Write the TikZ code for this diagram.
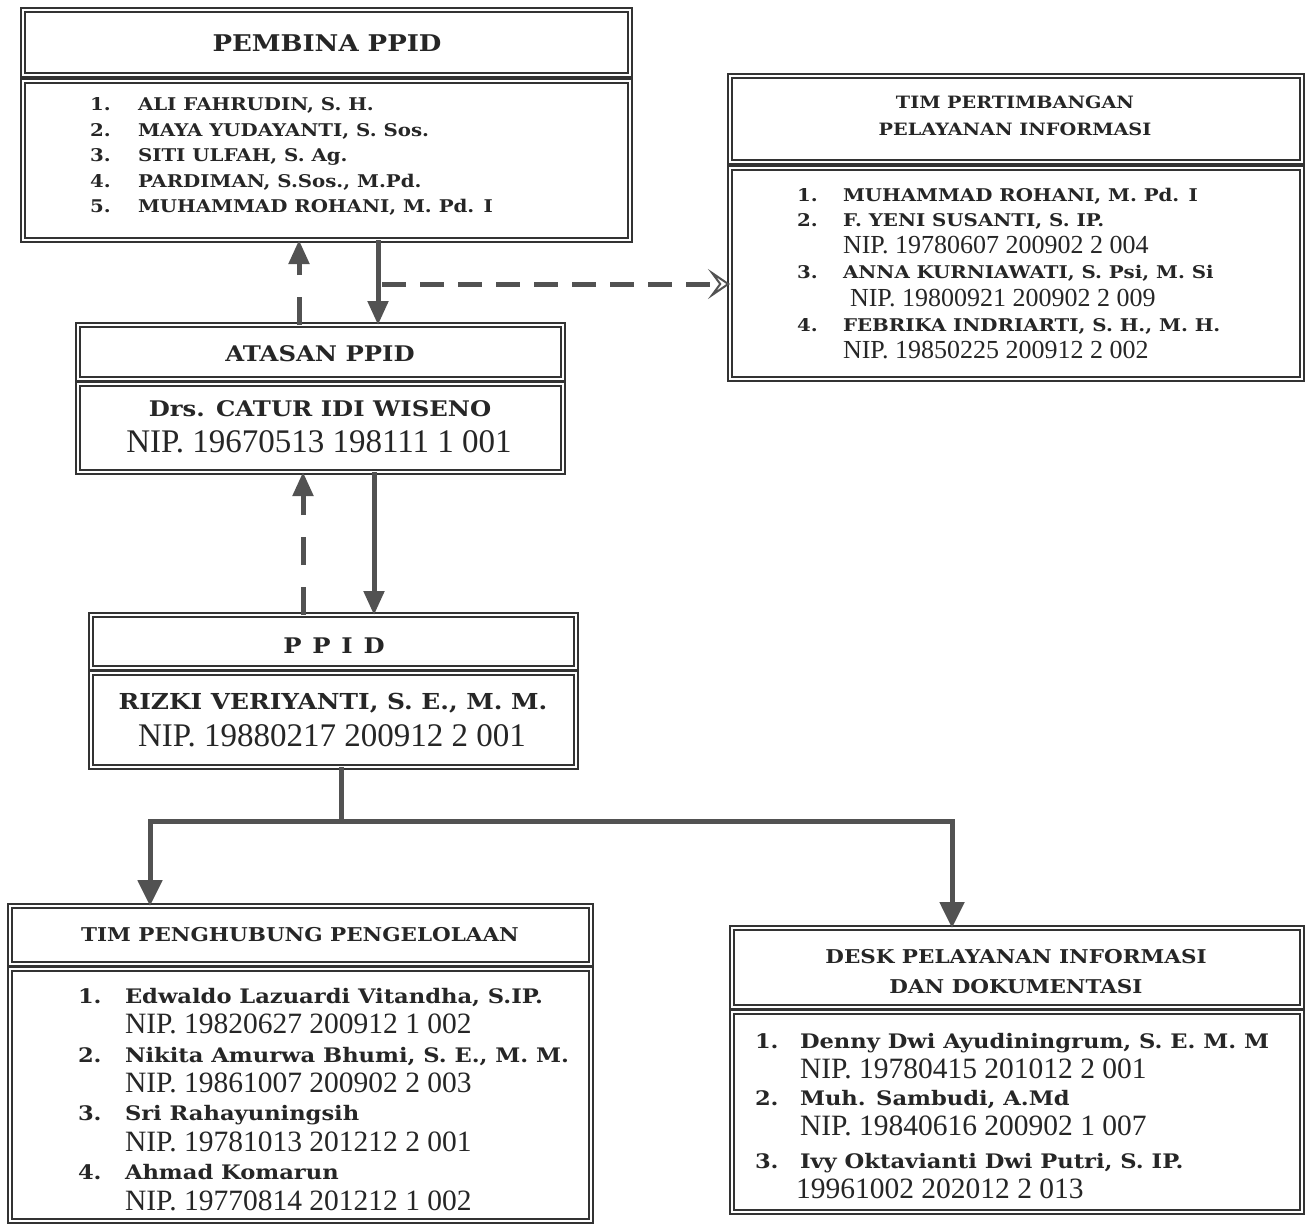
\documentclass[tikz,border=0pt]{standalone}
\usepackage{fontspec}
\setmainfont{DejaVu Serif}
\newfontfamily\bk{DejaVu Serif}[FakeStretch=1.13]
\newfontfamily\nipf{Liberation Serif}
\usetikzlibrary{arrows.meta}
\definecolor{ink}{HTML}{262626}
\definecolor{boxc}{HTML}{333333}
\definecolor{linec}{HTML}{525252}
\begin{document}
\begin{tikzpicture}[x=1pt,y=-1pt,
  box/.style={draw=boxc, double=white, double distance=2.4pt, line width=1.5pt, inner sep=0pt, outer sep=0pt, anchor=north west, rectangle},
  t/.style={inner sep=0pt, outer sep=0pt, text=ink},
  hA/.style={t, anchor=base, font=\fontsize{23}{26}\bk\bfseries},
  hB/.style={t, anchor=base, font=\fontsize{17}{20}\bk\bfseries},
  hC/.style={t, anchor=base, font=\fontsize{21.5}{24}\bk\bfseries},
  hD/.style={t, anchor=base, font=\fontsize{22}{24}\bk\bfseries},
  hE/.style={t, anchor=base, font=\fontsize{19}{22}\bk\bfseries},
  lS/.style={t, anchor=base west, font=\fontsize{17.5}{20}\bk\bfseries},
  lL/.style={t, anchor=base west, font=\fontsize{20}{24}\bk\bfseries},
  nS/.style={t, anchor=base west, font=\fontsize{26}{28}\nipf},
  nL/.style={t, anchor=base west, font=\fontsize{29.5}{32}\nipf},
  nC/.style={t, anchor=base, font=\fontsize{33}{35}\nipf},
  conn/.style={draw=linec, line width=5pt, line join=miter},
  tipF/.style={-{Triangle[length=24pt,width=20pt]}},
  dsh/.style={dash pattern=on 28pt off 22pt},
]
\useasboundingbox (0,0) rectangle (1308,1224);
\fill[white] (0,0) rectangle (1308,1224);

% ---------- boxes ----------
\node[box, minimum width=607pt, minimum height=65pt]  (pemH)  at (23,10) {};
\node[box, minimum width=607pt, minimum height=159pt] (pemB)  at (23,81) {};
\node[box, minimum width=572pt, minimum height=86pt]  (tpH)   at (730,76) {};
\node[box, minimum width=572pt, minimum height=211pt] (tpB)   at (730,168) {};
\node[box, minimum width=485pt, minimum height=54pt]  (ataH)  at (78,325) {};
\node[box, minimum width=485pt, minimum height=88pt]  (ataB)  at (78,384) {};
\node[box, minimum width=485pt, minimum height=53pt]  (ppidH) at (91,615) {};
\node[box, minimum width=485pt, minimum height=94pt]  (ppidB) at (91,673) {};
\node[box, minimum width=581pt, minimum height=58pt]  (penH)  at (10,906) {};
\node[box, minimum width=581pt, minimum height=252pt] (penB)  at (10,969) {};
\node[box, minimum width=570pt, minimum height=79pt]  (deskH) at (732,928) {};
\node[box, minimum width=570pt, minimum height=200pt] (deskB) at (732,1012) {};

% ---------- PEMBINA ----------
\node[hA] (pemT) at (327,51) {PEMBINA PPID};
\node[lS] (pn1) at (90,110) {1.};  \node[lS] (pm1) at (138,110) {ALI FAHRUDIN, S. H.};
\node[lS] (pn2) at (90,136) {2.};  \node[lS] (pm2) at (138,136) {MAYA YUDAYANTI, S. Sos.};
\node[lS] (pn3) at (90,161) {3.};  \node[lS] (pm3) at (138,161) {SITI ULFAH, S. Ag.};
\node[lS] (pn4) at (90,187) {4.};  \node[lS] (pm4) at (138,187) {PARDIMAN, S.Sos., M.Pd.};
\node[lS] (pn5) at (90,212) {5.};  \node[lS] (pm5) at (138,212) {MUHAMMAD ROHANI, M. Pd. I};

% ---------- TIM PERTIMBANGAN ----------
\node[hB] (tpT1) at (1015,108) {TIM PERTIMBANGAN};
\node[hB] (tpT2) at (1015,135) {PELAYANAN INFORMASI};
\node[lS] (tn1) at (797,201) {1.}; \node[lS] (tm1) at (843,201) {MUHAMMAD ROHANI, M. Pd. I};
\node[lS] (tn2) at (797,226) {2.}; \node[lS] (tm2) at (843,226) {F. YENI SUSANTI, S. IP.};
\node[nS] (tp2) at (843,253) {NIP. 19780607 200902 2 004};
\node[lS] (tn3) at (797,278) {3.}; \node[lS] (tm3) at (843,278) {ANNA KURNIAWATI, S. Psi, M. Si};
\node[nS] (tp3) at (850,306) {NIP. 19800921 200902 2 009};
\node[lS] (tn4) at (797,331) {4.}; \node[lS] (tm4) at (843,331) {FEBRIKA INDRIARTI, S. H., M. H.};
\node[nS] (tp4) at (843,358) {NIP. 19850225 200912 2 002};

% ---------- ATASAN ----------
\node[hC] (ataT) at (320,361) {ATASAN PPID};
\node[hC] (ataN) at (320,416) {Drs. CATUR IDI WISENO};
\node[nC] (ataP) at (319,452) {NIP. 19670513 198111 1 001};

% ---------- PPID ----------
\node[hC] (ppT) at (334,653) {P\hspace{0.5em}P\hspace{0.5em}I\hspace{0.5em}D};
\node[hD] (ppN) at (333,709) {RIZKI VERIYANTI, S. E., M. M.};
\node[nC] (ppP) at (332,746) {NIP. 19880217 200912 2 001};

% ---------- TIM PENGHUBUNG ----------
\node[hE] (penT) at (300,941) {TIM PENGHUBUNG PENGELOLAAN};
\node[lL] (en1) at (78,1003) {1.}; \node[lL] (em1) at (125,1003) {Edwaldo Lazuardi Vitandha, S.IP.};
\node[nL] (ep1) at (125,1033) {NIP. 19820627 200912 1 002};
\node[lL] (en2) at (78,1062) {2.}; \node[lL] (em2) at (125,1062) {Nikita Amurwa Bhumi, S. E., M. M.};
\node[nL] (ep2) at (125,1092) {NIP. 19861007 200902 2 003};
\node[lL] (en3) at (78,1120) {3.}; \node[lL] (em3) at (125,1120) {Sri Rahayuningsih};
\node[nL] (ep3) at (125,1151) {NIP. 19781013 201212 2 001};
\node[lL] (en4) at (78,1179) {4.}; \node[lL] (em4) at (125,1179) {Ahmad Komarun};
\node[nL] (ep4) at (125,1210) {NIP. 19770814 201212 1 002};

% ---------- DESK ----------
\node[hE] (dkT1) at (1016,963) {DESK PELAYANAN INFORMASI};
\node[hE] (dkT2) at (1016,993) {DAN DOKUMENTASI};
\node[lL] (dn1) at (755,1048) {1.}; \node[lL] (dm1) at (800,1048) {Denny Dwi Ayudiningrum, S. E. M. M};
\node[nL] (dp1) at (800,1078) {NIP. 19780415 201012 2 001};
\node[lL] (dn2) at (755,1105) {2.}; \node[lL] (dm2) at (800,1105) {Muh. Sambudi, A.Md};
\node[nL] (dp2) at (800,1135) {NIP. 19840616 200902 1 007};
\node[lL] (dn3) at (755,1168) {3.}; \node[lL] (dm3) at (800,1168) {Ivy Oktavianti Dwi Putri, S. IP.};
\node[nL] (dp3) at (796,1198) {19961002 202012 2 013};

% ---------- connectors ----------
\coordinate (xA) at (378,0);
\coordinate (xB) at (299,0);
\coordinate (xC) at (374,0);
\coordinate (xD) at (303,0);
\coordinate (branch) at (378,284);
\coordinate (jM) at (341,821);
\coordinate (jL) at (150,821);
\coordinate (jR) at (952,821);

\draw[conn, tipF] (pemB.south -| xA) -- (ataH.north -| xA);
\draw[conn, dsh, tipF] (ataH.north -| xB) -- (pemB.south -| xB);
\draw[conn, dash pattern=on 24pt off 14pt,
  -{Stealth[open, length=22pt, width=30pt, inset=11pt, line width=2pt]}]
  ([xshift=4pt]branch) -- (branch -| tpB.west);
\draw[conn, tipF] (ataB.south -| xC) -- (ppidH.north -| xC);
\draw[conn, dsh, tipF] (ppidH.north -| xD) -- (ataB.south -| xD);

\draw[conn] (ppidB.south -| jM) -- (jM);
\draw[conn, -{Triangle[length=26pt,width=24pt]}] (jM) -- (jL) -- (penH.north -| jL);
\draw[conn, -{Triangle[length=26pt,width=24pt]}] (jM) -- (jR) -- (deskH.north -| jR);
\end{tikzpicture}
\end{document}
